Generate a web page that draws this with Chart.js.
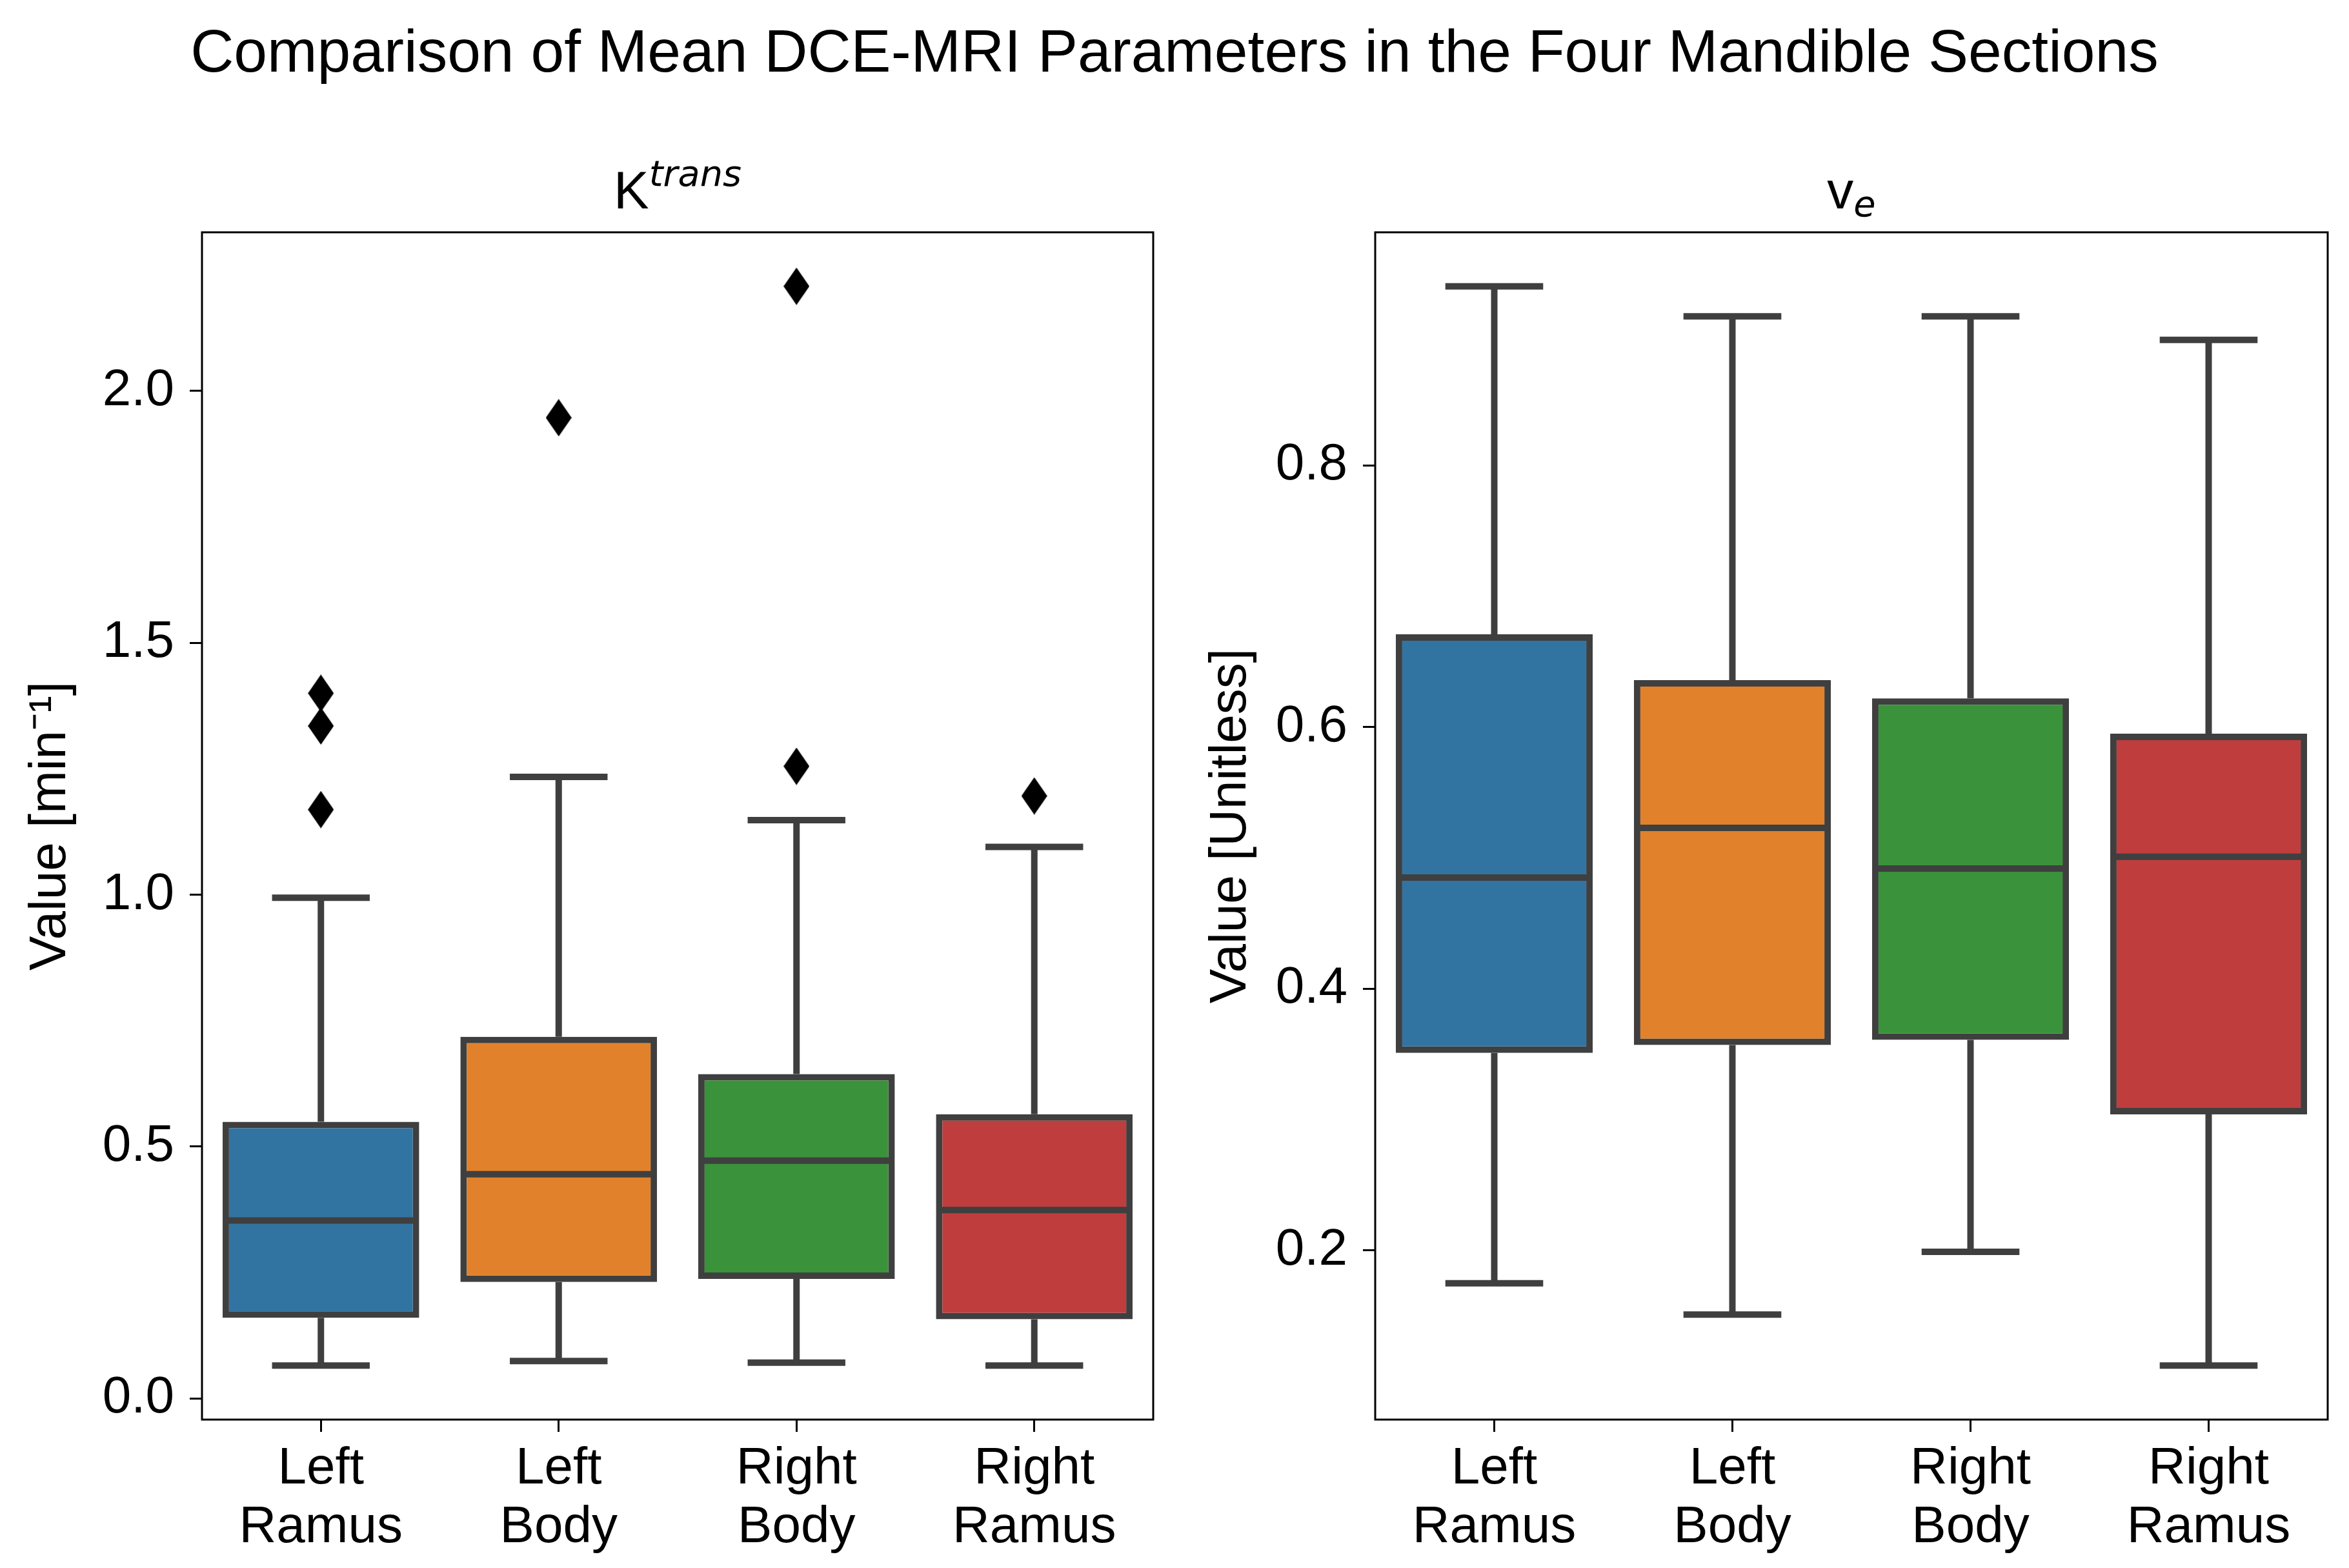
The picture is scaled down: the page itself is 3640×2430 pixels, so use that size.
<!DOCTYPE html>
<html><head><meta charset="utf-8">
<script src="https://cdn.jsdelivr.net/npm/chart.js@4"></script>
<style>
html,body{margin:0;padding:0;background:#fff;}
#wrap{position:relative;width:3640px;height:2430px;overflow:hidden;font-family:"Liberation Sans",Arial,sans-serif;color:#000;}
canvas{position:absolute;top:0;}
#title{position:absolute;left:0;width:3640px;top:33px;text-align:center;font-size:93px;line-height:1;white-space:nowrap;}
.sub{position:absolute;top:254px;font-size:82px;line-height:1;white-space:nowrap;transform:translateX(-50%);}
.sup{font-family:"DejaVu Sans",sans-serif;font-style:italic;font-size:0.68em;position:relative;top:-0.62em;}
.sb{font-family:"DejaVu Sans",sans-serif;font-style:italic;font-size:0.68em;position:relative;top:0.22em;}
</style></head>
<body>
<div id="wrap">
  <canvas id="c1" width="1820" height="2430" style="left:0;width:1820px;height:2430px;"></canvas>
  <canvas id="c2" width="1820" height="2430" style="left:1820px;width:1820px;height:2430px;"></canvas>
  <div id="title">Comparison of Mean DCE-MRI Parameters in the Four Mandible Sections</div>
  <div class="sub" style="left:1050px;">K<span class="sup">trans</span></div>
  <div class="sub" style="left:2869px;">v<span class="sb">e</span></div>
</div>
<script>
// ---------- data ----------
const categories = [['Left','Ramus'],['Left','Body'],['Right','Body'],['Right','Ramus']];
const boxColors = ['#3274a1','#e1812c','#3a923a','#c03d3e'];

const ktransLow    = [0.065, 0.074, 0.071, 0.065];
const ktransQ1     = [0.160, 0.231, 0.237, 0.157];
const ktransMedian = [0.353, 0.445, 0.472, 0.374];
const ktransQ3     = [0.549, 0.718, 0.644, 0.564];
const ktransHigh   = [0.994, 1.234, 1.148, 1.095];
const ktransOutliers = [[1.400, 1.335, 1.169], [1.947], [2.208, 1.255], [1.196]];
const ktransTicks  = [0.0, 0.5, 1.0, 1.5, 2.0];

const veLow    = [0.175, 0.151, 0.199, 0.112];
const veQ1     = [0.351, 0.357, 0.361, 0.304];
const veMedian = [0.485, 0.523, 0.492, 0.501];
const veQ3     = [0.671, 0.636, 0.622, 0.595];
const veHigh   = [0.937, 0.914, 0.914, 0.896];
const veOutliers = [[], [], [], []];
const veTicks  = [0.2, 0.4, 0.6, 0.8];

// ---------- styling ----------
Chart.defaults.font.family = '"Liberation Sans", Arial, sans-serif';
Chart.defaults.color = '#000';
const LINE = '#3f3f3f';
const LW = 10;

function thinDiamond(){
  const c = document.createElement('canvas');
  c.width = 40; c.height = 58;
  const g = c.getContext('2d');
  g.fillStyle = '#000';
  g.beginPath();
  g.moveTo(20,0); g.lineTo(40,29); g.lineTo(20,58); g.lineTo(0,29); g.closePath();
  g.fill();
  return c;
}
const diamond = thinDiamond();

const boxParts = {
  id: 'boxParts',
  beforeDatasetsDraw(chart){
    const s = chart.$box; if(!s) return;
    const ctx = chart.ctx, y = chart.scales.y, x = chart.scales.x;
    const catW = x.width / categories.length;
    ctx.save();
    ctx.strokeStyle = LINE; ctx.lineWidth = LW; ctx.lineCap = 'butt';
    for(let i=0;i<categories.length;i++){
      const cx = x.getPixelForValue(i);
      ctx.beginPath();
      ctx.moveTo(cx, y.getPixelForValue(s.q1[i])); ctx.lineTo(cx, y.getPixelForValue(s.low[i]));
      ctx.moveTo(cx, y.getPixelForValue(s.q3[i])); ctx.lineTo(cx, y.getPixelForValue(s.high[i]));
      ctx.stroke();
      const half = 0.2*catW + 2;
      ctx.beginPath();
      const yl = y.getPixelForValue(s.low[i]), yh = y.getPixelForValue(s.high[i]);
      ctx.moveTo(cx-half, yl); ctx.lineTo(cx+half, yl);
      ctx.moveTo(cx-half, yh); ctx.lineTo(cx+half, yh);
      ctx.stroke();
    }
    ctx.restore();
  },
  afterDatasetsDraw(chart){
    const s = chart.$box; if(!s) return;
    const ctx = chart.ctx, y = chart.scales.y;
    const meta = chart.getDatasetMeta(0);
    ctx.save();
    ctx.strokeStyle = LINE; ctx.lineWidth = LW;
    meta.data.forEach((bar,i)=>{
      const ym = y.getPixelForValue(s.med[i]);
      ctx.beginPath();
      ctx.moveTo(bar.x - bar.width/2 + LW/2, ym);
      ctx.lineTo(bar.x + bar.width/2 - LW/2, ym);
      ctx.stroke();
    });
    const a = chart.chartArea;
    ctx.strokeStyle = '#000'; ctx.lineWidth = 3;
    ctx.strokeRect(a.left, a.top, a.right-a.left, a.bottom-a.top);
    ctx.restore();
  }
};

function range(lo, hi){ const m = (hi-lo)*0.05; return [lo-m, hi+m]; }

function makeChart(id, s, ticks, yTitle, yAxisWidth, titlePad){
  const all = s.low.concat(s.high, ...s.out);
  const [ymin, ymax] = range(Math.min(...all), Math.max(...all));
  const outPts = [];
  s.out.forEach((arr,i)=>arr.forEach(v=>outPts.push({x:i, y:v})));
  const chart = new Chart(document.getElementById(id), {
    type: 'bar',
    data: {
      labels: categories,
      datasets: [{
        data: s.q1.map((v,i)=>[v, s.q3[i]]),
        backgroundColor: boxColors,
        borderColor: LINE,
        borderWidth: LW,
        borderSkipped: false,
        grouped: false,
        barPercentage: 0.827,
        categoryPercentage: 1.0
      },{
        type: 'scatter',
        xAxisID: 'xo',
        data: outPts,
        pointStyle: diamond,
        pointRadius: 20,
        backgroundColor: '#000',
        borderColor: '#000'
      }]
    },
    options: {
      responsive: false,
      animation: false,
      devicePixelRatio: 1,
      layout: { padding: { top: 360, right: 33, left: 0, bottom: 0 } },
      plugins: { legend: { display: false }, tooltip: { enabled: false }, title: { display: false } },
      scales: {
        x: {
          type: 'category',
          offset: true,
          grid: { display: true, drawOnChartArea: false, drawTicks: true, tickLength: 19, color: '#000', lineWidth: 3, offset: false },
          border: { display: false },
          ticks: { font: { size: 80, lineHeight: 1.13 }, color: '#000', padding: 13, maxRotation: 0, autoSkip: false },
          afterFit(ax){ ax.height = 230; }
        },
        xo: { type: 'linear', display: false, offset: false, grid: { offset: false }, min: -0.5, max: categories.length - 0.5 },
        y: {
          min: ymin, max: ymax,
          grid: { display: true, drawOnChartArea: false, drawTicks: true, tickLength: 19, color: '#000', lineWidth: 3 },
          border: { display: false },
          ticks: { font: { size: 80 }, color: '#000', padding: 24, callback: v => Number(v).toFixed(1) },
          afterBuildTicks(ax){ ax.ticks = ticks.map(v=>({value:v})); },
          title: { display: true, text: yTitle, font: { size: 80, lineHeight: 1.2 }, color: '#000', padding: { top: titlePad, bottom: 0 } },
          afterFit(ax){ ax.width = yAxisWidth; }
        }
      }
    },
    plugins: [boxParts]
  });
  chart.$box = s;
  chart.draw();
  return chart;
}

makeChart('c1', {low:ktransLow, q1:ktransQ1, med:ktransMedian, q3:ktransQ3, high:ktransHigh, out:ktransOutliers},
  ktransTicks, 'Value [min\u207B\u00B9]', 313, 31);
makeChart('c2', {low:veLow, q1:veQ1, med:veMedian, q3:veQ3, high:veHigh, out:veOutliers},
  veTicks, 'Value [Unitless]', 311, 40);
</script>
</body></html>
